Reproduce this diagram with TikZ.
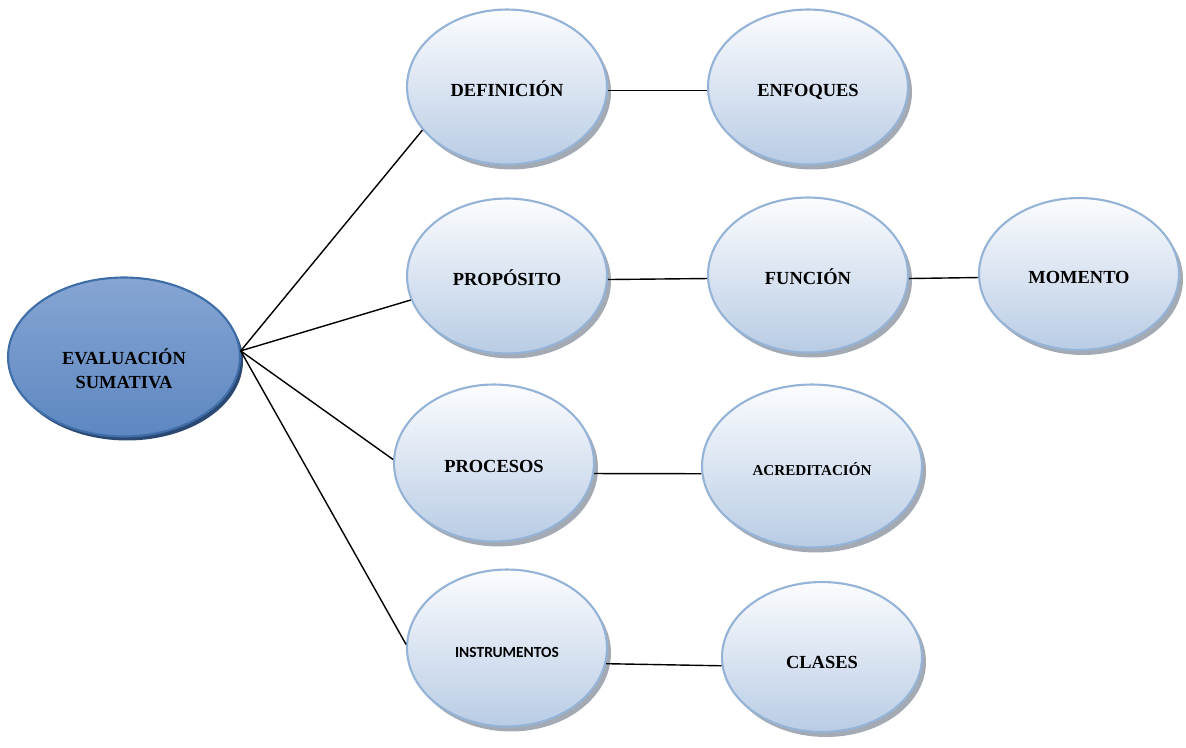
\documentclass[tikz,border=0pt]{standalone}
\usepackage{fontspec}
\setmainfont{Liberation Serif}
\newfontfamily\calibri{Carlito}
\usetikzlibrary{shapes.geometric}
\usetikzlibrary{shadows}

\definecolor{borde}{HTML}{95B3D7}
\definecolor{claro}{HTML}{FBFCFE}
\definecolor{medio}{HTML}{B9CCE5}
\definecolor{sombra}{HTML}{A4AAB3}
\definecolor{azul}{HTML}{4576B6}
\definecolor{azulclaro}{HTML}{86A5D3}
\definecolor{azulbajo}{HTML}{5D87C1}
\definecolor{azulborde}{HTML}{3F6DA8}
\definecolor{azulsombra}{HTML}{2B4872}

\tikzset{
  idea/.style={ellipse, draw=borde, line width=1.2pt, top color=claro, bottom color=medio,
    minimum width=4cm, minimum height=3.1cm, inner sep=0pt, text height=11pt, text depth=0pt,
    font=\fontsize{10.5}{12}\selectfont\bfseries,
    drop shadow={shadow xshift=0.08cm, shadow yshift=-0.1cm, fill=sombra, opacity=1}},
  raiz/.style={ellipse, draw=azulborde, line width=1.2pt, top color=azulclaro, middle color=azul, bottom color=azulbajo,
    minimum width=4.64cm, minimum height=3.18cm, inner sep=0pt, align=center,
    font=\fontsize{10.5}{14}\selectfont\bfseries,
    drop shadow={shadow xshift=0.06cm, shadow yshift=-0.08cm, fill=azulsombra, opacity=1}},
  linea/.style={draw=black, line width=0.8pt}
}

\begin{document}
\begin{tikzpicture}[x=0.02cm, y=-0.02cm]
\useasboundingbox (0,0) rectangle (1186,747);

\node[raiz] (eval) at (124,357) {\rule{0pt}{0.78cm}EVALUACIÓN\\SUMATIVA};

\node[idea] (def) at (507,87) {DEFINICIÓN};
\node[idea] (enf) at (808,87) {ENFOQUES};
\node[idea] (prop) at (507,276) {PROPÓSITO};
\node[idea] (func) at (808,275) {FUNCIÓN};
\node[idea, minimum height=3.04cm] (mom) at (1079,274) {MOMENTO};
\node[idea, minimum height=3.14cm] (proc) at (494,463) {PROCESOS};
\node[idea, minimum width=4.4cm, minimum height=3.26cm, font=\fontsize{8.6}{10}\selectfont\bfseries] (acred) at (812,466) {ACREDITACIÓN};
\node[idea, minimum height=3.14cm, font=\calibri\fontsize{8.8}{10}\selectfont\bfseries] (instr) at (507,648) {INSTRUMENTOS};
\node[idea, minimum height=3cm, text height=13pt] (clases) at (822,657) {CLASES};

\coordinate (hub) at (eval.3);
\draw[linea] (hub) -- (def.207);
\draw[linea] (hub) -- (prop.194);
\draw[linea] (hub) -- (proc.178);
\draw[linea] (hub) -- (instr.178);

\draw[linea] (def.-2) -- (enf.182);
\draw[linea] (prop.-2) -- (func.182);
\draw[linea] (func.-2) -- (mom.182);
\draw[linea] (proc.-6) -- (acred.184);
\draw[linea] (instr.-9) -- (clases.185);
\end{tikzpicture}
\end{document}
